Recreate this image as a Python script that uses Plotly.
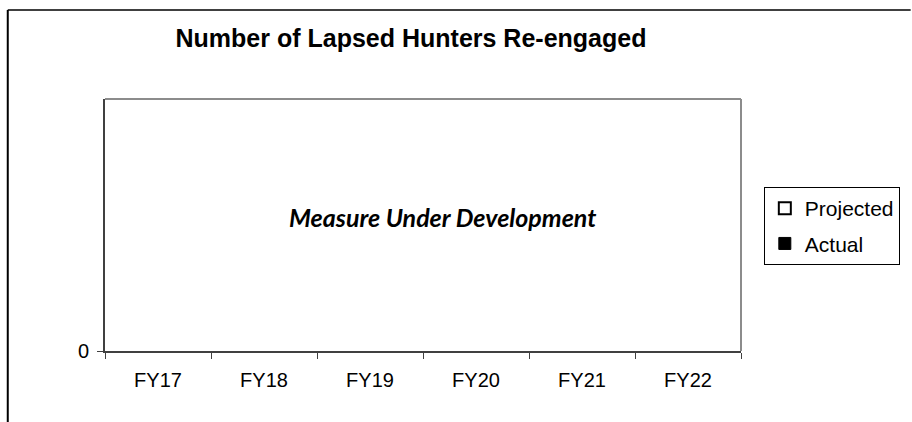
import plotly.graph_objects as go

categories = ["FY17", "FY18", "FY19", "FY20", "FY21", "FY22"]
projected = [None, None, None, None, None, None]
actual = [None, None, None, None, None, None]
y_ticks = [0]
title_text = "Number of Lapsed Hunters Re-engaged"
note_text = "Measure Under Development"

W, H = 912, 422
L, R, T, B = 105, 746, 99, 351  # plot area in pixels

def px(x):
    return (x - L) / (R - L)

def py(y):
    return (B - y) / (B - T)

fig = go.Figure()
fig.add_trace(go.Bar(name="Projected", x=categories, y=projected,
                     marker=dict(color="white", line=dict(color="black", width=2)),
                     legendgroup="p"))
fig.add_trace(go.Bar(name="Actual", x=categories, y=actual,
                     marker=dict(color="black", line=dict(color="black", width=1)),
                     legendgroup="a"))

font = "Liberation Sans, Arial, sans-serif"

fig.update_layout(
    width=W, height=H,
    margin=dict(l=L, r=W - R, t=T, b=H - B, pad=0),
    paper_bgcolor="white", plot_bgcolor="white",
    font=dict(family=font, size=20, color="black"),
    title=dict(text="<b>" + title_text + "</b>", x=411 / W, xanchor="center",
               y=1 - 38 / H, yanchor="middle", font=dict(size=25, family=font)),
    showlegend=True,
    legend=dict(x=px(769), y=py(187), xanchor="left", yanchor="top",
                bordercolor="black", borderwidth=1, bgcolor="white",
                font=dict(size=21, family=font), traceorder="grouped",
                tracegroupgap=5, itemwidth=30),
    xaxis=dict(type="category", categoryorder="array", categoryarray=categories,
               range=[-0.5, 5.5], showline=True, linecolor="#404040", linewidth=2,
               ticks="outside", tickson="boundaries", ticklen=6, tickcolor="#404040",
               tickwidth=1, showgrid=False, zeroline=False, ticklabelstandoff=10,
               tickfont=dict(size=20, family=font), fixedrange=True),
    yaxis=dict(range=[0, 1], tickvals=y_ticks, ticktext=[str(v) for v in y_ticks],
               showline=True, linecolor="#404040", linewidth=2, ticks="outside",
               ticklen=6, tickcolor="#404040", showgrid=False, zeroline=False,
               tickfont=dict(size=20, family=font), ticklabelstandoff=4,
               fixedrange=True),
    shapes=[
        # plot area top and right borders
        dict(type="line", xref="paper", yref="paper", x0=0, x1=1, y0=1, y1=1,
             line=dict(color="#8c8c8c", width=2)),
        dict(type="line", xref="paper", yref="paper", x0=1, x1=1, y0=0, y1=1,
             line=dict(color="#8c8c8c", width=2)),
        # outer chart frame (top and left)
        dict(type="line", xref="paper", yref="paper", x0=px(7), x1=px(W + 5),
             y0=py(10), y1=py(10), line=dict(color="#404040", width=2)),
        dict(type="line", xref="paper", yref="paper", x0=px(7), x1=px(7),
             y0=py(10), y1=py(H + 5), line=dict(color="black", width=2)),
    ],
    annotations=[
        dict(text="<b><i>" + note_text + "</i></b>", xref="paper", yref="paper",
             x=px(445), y=py(217), xanchor="center", yanchor="middle",
             showarrow=False, font=dict(size=25, family="Lato, sans-serif"))
    ],
)

fig.write_html("out.html", config={"displayModeBar": False},
               post_script="document.body.style.margin='0';")
